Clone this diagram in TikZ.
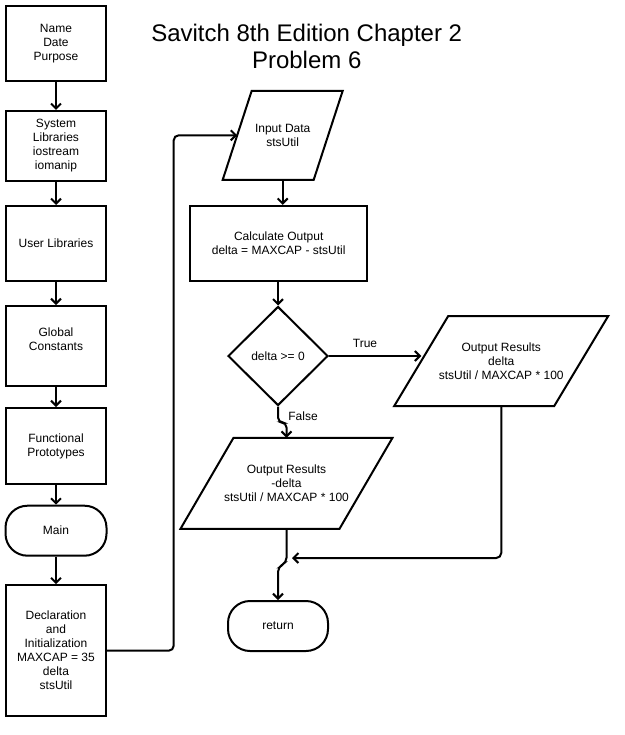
\documentclass[tikz,border=0pt]{standalone}
\usepackage{fontspec}
\setmainfont{Liberation Sans}
\usetikzlibrary{arrows.meta,shapes.geometric}
% outline of an input/output parallelogram around a (borderless) rectangle node:
% #1 = node name, #2 = half of the horizontal slant
\newcommand\slantbox[2]{%
  \draw[line width=2pt] ([xshift=#2]#1.north west) -- ([xshift=#2]#1.north east)
    -- ([xshift=-#2]#1.south east) -- ([xshift=-#2]#1.south west) -- cycle;}
\begin{document}
\begin{tikzpicture}[x=1pt,y=-1pt,
  every node/.style={font=\fontsize{12}{14}\selectfont, align=center, inner sep=2pt},
  proc/.style={draw, line width=2pt, minimum width=100pt},
  term/.style={draw, line width=2pt, rounded corners=22pt, minimum width=100pt, minimum height=50pt},
  io/.style={outer sep=0pt},
  dec/.style={draw, diamond, line width=2pt, aspect=1, minimum width=100pt, minimum height=99pt, inner sep=0pt},
  flow/.style={line width=2pt, -{Straight Barb[length=5pt,width=10pt]}, rounded corners=5pt},
  tag/.style={font=\fontsize{12}{14}\selectfont},
]
\useasboundingbox (0,0) rectangle (624,735);

% title
\node[font=\fontsize{24}{27}\selectfont] (title) at (306.7,46.5) {Savitch 8th Edition Chapter 2\\Problem 6};

% left column: program preamble
\node[proc, minimum height=75pt]  (b1)   at (56,43.5)  {Name\\Date\\Purpose};
\node[proc, minimum height=70pt]  (b2)   at (56,146)   {System\\Libraries\\iostream\\iomanip};
\node[proc, minimum height=75pt]  (b3)   at (56,243.5) {User Libraries};
\node[proc, minimum height=80pt]  (b4)   at (56,346)   {Global\\Constants\\\mbox{}};
\node[proc, minimum height=76pt]  (b5)   at (56,446)   {Functional\\Prototypes};
\node[term, minimum width=101pt]  (main) at (56,530.7) {Main};
\node[proc, minimum height=131pt] (b7)   at (56,650.7) {Declaration\\and\\Initialization\\MAXCAP = 35\\delta\\stsUtil};

% right part: main body
\node[io, minimum width=91pt, minimum height=89pt] (in) at (282.7,135.3) {Input Data\\stsUtil};
\slantbox{in}{14.5pt}
\node[proc, minimum width=177pt, minimum height=75pt] (calc) at (278.7,243.3) {Calculate Output\\delta = MAXCAP - stsUtil};
\node[dec] (dec) at (278,356) {delta >= 0};
\node[io, minimum width=160pt, minimum height=90pt] (outR) at (501.25,361) {Output Results\\delta\\stsUtil / MAXCAP * 100};
\slantbox{outR}{27pt}
\node[io, minimum width=159pt, minimum height=91pt] (outL) at (286.5,483.3) {Output Results\\-delta\\stsUtil / MAXCAP * 100};
\slantbox{outL}{26.5pt}
\node[term] (ret) at (278,626) {return};

\coordinate (mrg) at (292,558);

% connectors
\foreach \a/\b in {b1/b2,b2/b3,b3/b4,b4/b5,b5/main,main/b7}
  \draw[flow] (\a) -- (\b);
\draw[flow] (b7.east) -- ++(66.7,0) |- (in.west);
\draw[flow] (in.south) -- (in.south |- calc.north);
\draw[flow] (dec.north |- calc.south) -- (dec.north);
\draw[flow] (dec.east) -- (dec.east -| outR.west);
\draw[flow] (dec.south) -- ++(0,16) -| (outL.north);
\draw[flow] (outL.south) -- ++(0,34) -- ++(-8.5,4) -- (ret.north);
\draw[flow] (outR.south) |- (mrg);

% branch labels
\node[tag] (ttrue)  at (365,343) {True};
\node[tag] (tfalse) at (303,416) {False};
\end{tikzpicture}
\end{document}
